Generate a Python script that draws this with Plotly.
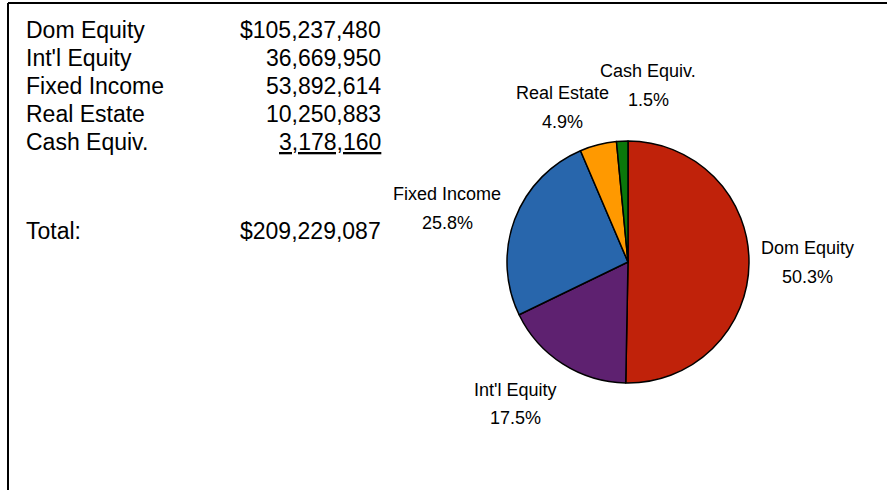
import plotly.graph_objects as go

# ---- data ----
categories = ["Dom Equity", "Int'l Equity", "Fixed Income", "Real Estate", "Cash Equiv."]
values = [105237480, 36669950, 53892614, 10250883, 3178160]
colors = ["#C0220A", "#5E2170", "#2866AC", "#FF9900", "#0B780B"]

W, H = 887, 490
total = sum(values)

def px(x):
    return x / W

def py(y):
    return 1 - y / H

# pie geometry (pixels)
cx, cy, r = 628, 262, 121

fig = go.Figure()
fig.add_trace(go.Pie(
    labels=categories,
    values=values,
    sort=False,
    direction="clockwise",
    rotation=0,
    marker=dict(colors=colors, line=dict(color="black", width=1.5)),
    textinfo="none",
    hoverinfo="label+percent",
    showlegend=False,
    domain=dict(x=[px(cx - r), px(cx + r)], y=[py(cy + r), py(cy - r)]),
))

annotations = []
table_font = dict(family="Liberation Sans, Arial, sans-serif", size=23, color="black")

# table rows
row_y = [30, 58, 86, 114, 142]
for i, (name, v) in enumerate(zip(categories, values)):
    num = f"{v:,}"
    if i == 0:
        num = "$" + num
    if i == len(values) - 1:
        num = "<u>" + num + "</u>"
    annotations.append(dict(x=px(24), y=py(row_y[i]), xref="paper", yref="paper",
                            text=name, showarrow=False, xanchor="left", yanchor="middle",
                            font=table_font))
    annotations.append(dict(x=px(383), y=py(row_y[i]), xref="paper", yref="paper",
                            text=num, showarrow=False, xanchor="right", yanchor="middle",
                            font=table_font))
annotations.append(dict(x=px(24), y=py(231), xref="paper", yref="paper",
                        text="Total:", showarrow=False, xanchor="left", yanchor="middle",
                        font=table_font))
annotations.append(dict(x=px(383), y=py(231), xref="paper", yref="paper",
                        text=f"${total:,}", showarrow=False, xanchor="right", yanchor="middle",
                        font=table_font))

# pie slice labels (name line, percent line) positions in pixels
label_pos = [(807, 248, 277), (515, 390, 418), (447, 194, 223), (562, 93, 122), (648, 71, 100)]
pie_font = dict(family="Liberation Sans, Arial, sans-serif", size=18, color="black")
for name, v, (lx, ly1, ly2) in zip(categories, values, label_pos):
    annotations.append(dict(x=px(lx), y=py(ly1), xref="paper", yref="paper",
                            text=name, showarrow=False, xanchor="center", yanchor="middle",
                            font=pie_font))
    annotations.append(dict(x=px(lx), y=py(ly2), xref="paper", yref="paper",
                            text=f"{v / total * 100:.1f}%", showarrow=False,
                            xanchor="center", yanchor="middle", font=pie_font))

shapes = [
    dict(type="line", xref="paper", yref="paper", x0=px(8), y0=py(3), x1=px(8), y1=py(495),
         line=dict(color="black", width=2)),
    dict(type="line", xref="paper", yref="paper", x0=px(8), y0=py(3), x1=px(895), y1=py(3),
         line=dict(color="black", width=2)),
]

fig.update_layout(
    width=W, height=H,
    margin=dict(l=0, r=0, t=0, b=0),
    paper_bgcolor="white",
    plot_bgcolor="white",
    annotations=annotations,
    shapes=shapes,
)

fig.write_html("out.html", config={"displayModeBar": False},
               post_script="document.body.style.margin='0';")
